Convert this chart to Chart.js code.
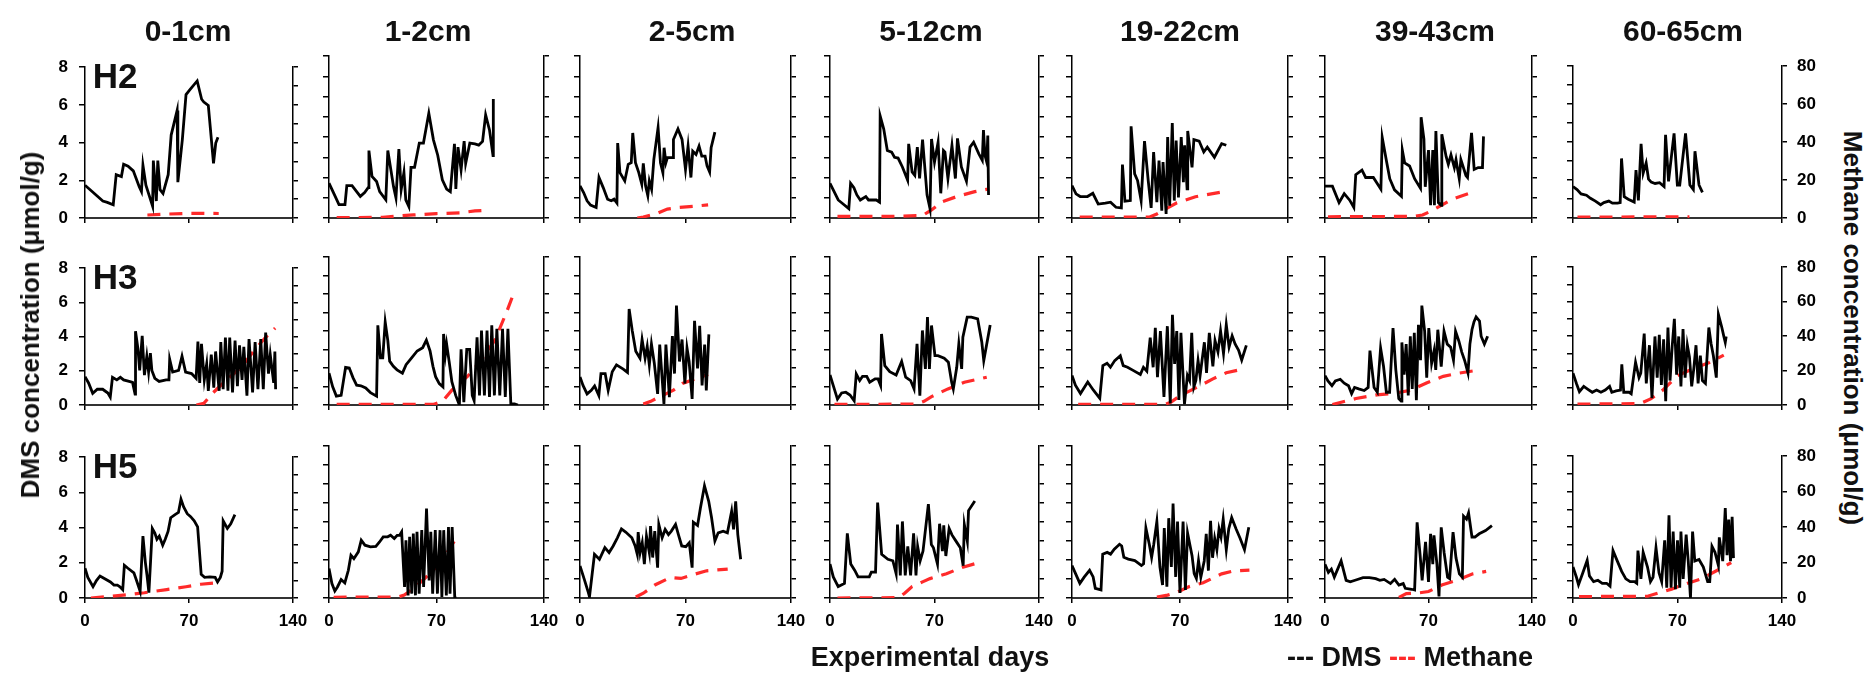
<!DOCTYPE html>
<html>
<head>
<meta charset="utf-8">
<script src="https://cdn.jsdelivr.net/npm/chart.js@4.4.1/dist/chart.umd.min.js"></script>
<style>
  body { margin: 0; width: 1870px; height: 674px; position: relative; overflow: hidden; background: #fff;
         font-family: "Liberation Sans", Arial, sans-serif; font-weight: bold; color: #111; }
  canvas { position: absolute; }
  .lbl { position: absolute; white-space: nowrap; line-height: 1; transform: translate(-50%, -50%); }
</style>
</head>
<body>
<script>
// sediment depth layers (columns) and cores (rows)
const depths = ['0-1cm', '1-2cm', '2-5cm', '5-12cm', '19-22cm', '39-43cm', '60-65cm'];
const cores = ['H2', 'H3', 'H5'];
const dayTicks = [0, 70, 140];
const dmsTicks = [0, 2, 4, 6, 8];
const ch4Ticks = [0, 20, 40, 60, 80];

// DMS (µmol/g) as [day, value] per depth
const dmsH2 = [
  [[0,1.74],[12,0.9],[15,0.83],[19,0.7],[21,2.3],[24.5,2.2],[26,2.85],[29,2.75],[32.5,2.5],[36.5,1.66],[38,1.4],[39,2.8],[41,1.74],[45.5,0.63],[46,3.05],[48,0.9],[49,3.05],[50.5,1.5],[52.5,1.3],[56,2.3],[58,4.4],[62,5.7],[62.5,1.9],[65.5,4.15],[68,6.55],[70.5,6.8],[75.5,7.27],[78.5,6.3],[80,6.15],[83,5.97],[86.5,2.9],[88,3.98],[89.5,4.28]],
  [[0,1.72],[3.5,1.15],[6.5,0.66],[10.4,0.66],[11.6,1.6],[15,1.6],[20.4,1.07],[23.2,1.26],[25.5,1.5],[26,3.33],[28,2.05],[31,1.8],[33,1.3],[37,0.9],[38.3,3.33],[42,1.56],[43.6,1.0],[45.5,3.4],[47,1.4],[48.8,2.25],[50,0.9],[52,0.57],[53.4,2.5],[55.7,2.5],[58.8,3.7],[61.5,3.7],[65,5.17],[68,3.86],[70.8,3.1],[73.8,1.89],[76.6,1.43],[79,1.3],[81.7,3.66],[82.6,1.43],[84,3.5],[86,2.38],[88,3.8],[89,2.7],[91.7,3.7],[95,3.66],[97.5,3.6],[100,3.78],[102,5.09],[104.5,4.35],[106.8,3.08],[107,5.88]],
  [[0,1.59],[2.4,1.26],[4.7,0.85],[7,0.64],[10.7,0.52],[12.6,2.0],[15.4,1.5],[18.3,0.93],[20.7,0.85],[22.6,0.93],[24.5,0.74],[25,3.7],[26.5,2.24],[29.7,1.83],[32,2.65],[34,2.73],[35,4.2],[36.8,2.73],[39,2.24],[41,1.67],[42,2.7],[43.5,1.59],[45,1.1],[46,1.83],[47.5,1.42],[49,2.9],[51.8,4.46],[53.4,2.73],[55,2.24],[55.8,3.47],[57,2.73],[58,2.98],[61.8,2.98],[62,3.88],[65,4.4],[67.7,3.88],[70,2.4],[71.7,3.55],[73.6,2.0],[74.8,3.3],[77,3.14],[79,3.55],[80.8,3.06],[83,3.06],[84.3,2.57],[86,2.27],[87,3.47],[89.5,4.24]],
  [[0,1.71],[2.6,1.33],[5.5,0.89],[9,0.68],[12.6,0.46],[13.8,1.71],[16,1.5],[18,1.14],[20.3,0.89],[24,1.06],[25.8,0.89],[28,0.89],[31,0.89],[33.2,0.78],[33.6,5.04],[36,4.39],[38.4,3.33],[41.3,3.25],[43.2,3.0],[45.6,2.96],[48.5,2.52],[52,1.87],[52.7,3.66],[55,2.28],[56.8,2.11],[58.5,3.5],[60,1.95],[62,3.87],[65,1.14],[67,0.46],[68,3.9],[70,2.76],[72.4,3.74],[74.2,1.22],[76,3.33],[77,3.25],[79,1.95],[81.7,3.58],[84,1.95],[85.4,3.93],[88,2.52],[91.4,1.82],[93.8,3.5],[96.2,3.74],[99.7,3.17],[102,2.85],[102.8,4.34],[103.8,3.1],[105,2.76],[105.7,4.07],[106.2,1.14]],
  [[0,1.6],[2.6,1.19],[5.3,1.06],[10,1.06],[13.5,1.22],[17,0.69],[21.6,0.73],[25,0.78],[28.5,0.53],[32,0.5],[32.7,2.64],[34.3,0.83],[37.8,0.86],[38.3,4.53],[40.6,2.18],[42.5,1.85],[44.8,0.86],[47,3.8],[49.4,1.85],[51.3,0.5],[52.9,3.26],[55,0.78],[56.4,2.84],[58.2,0.36],[59,2.76],[61,0.2],[62,4.0],[63.3,0.61],[65,4.69],[66.3,0.86],[67.5,3.83],[69,1.02],[70.8,4.0],[72.2,1.77],[73,3.59],[74.6,1.44],[75,4.3],[77.8,2.5],[79,3.87],[82.4,3.8],[85.4,3.26],[87.7,3.5],[92.3,3.0],[97,3.67],[100,3.59]],
  [[0,1.57],[5,1.57],[9.5,0.76],[13,1.2],[16.7,0.88],[19.5,0.52],[20.8,2.14],[25,2.36],[27.5,2.0],[32.7,2.0],[37.8,1.42],[38.7,3.98],[41.6,2.8],[43.8,1.94],[47,1.39],[51.7,1.07],[52.3,3.35],[53.9,2.72],[57.2,2.57],[60.6,1.94],[64.6,1.46],[65,4.98],[66.9,3.9],[67.8,1.54],[70,3.35],[71.4,0.63],[72.9,3.35],[74,0.63],[75,4.3],[76.7,0.76],[78.5,0.63],[79,4.14],[81.9,3.04],[83.4,2.65],[85.2,3.12],[87.5,2.49],[88.6,2.88],[90.8,1.94],[91.9,2.88],[95.3,2.1],[96.4,2.0],[99.1,4.2],[100.9,2.4],[103.6,2.49],[106.5,2.49],[107.2,4.03]],
  [[0,1.66],[2.7,1.5],[5.4,1.27],[9,1.2],[11.7,1.04],[15,0.89],[18.5,0.7],[20.7,0.81],[24,0.89],[26.4,0.78],[29.8,0.78],[31.6,0.81],[32.5,3.14],[34.3,1.12],[37,0.99],[41,0.84],[42.2,2.52],[43.8,0.93],[45.6,3.91],[47,2.36],[49,2.9],[50.6,2.05],[52.4,1.89],[55,1.82],[58,1.86],[61,1.66],[62,4.38],[64,1.93],[67.7,4.46],[69.9,1.74],[71.5,1.74],[75.4,4.46],[78.3,1.74],[80.6,1.5],[81.7,3.52],[84.4,1.74],[86.7,1.35]]
];
const dmsH3 = [
  [[0,1.65],[2.4,1.29],[5.2,0.68],[8.3,0.92],[11.9,0.92],[15.4,0.7],[17,0.46],[18.5,1.62],[21.4,1.47],[23.8,1.62],[26,1.47],[29.7,1.38],[32,1.32],[33.7,0.64],[34,4.32],[35.6,3.31],[36.8,2.02],[38.5,4.04],[40,1.75],[41.6,2.85],[42.8,1.93],[44,3.03],[45,2.02],[47,1.56],[49.9,1.38],[54.6,1.47],[56.5,1.47],[57,2.67],[59,1.93],[63,2.02],[65.3,2.85],[67.7,1.93],[71.7,1.84],[74.8,1.56],[76,3.71],[77.2,1.29],[78.4,3.58],[80.3,1.47],[81.9,2.39],[83,0.83],[85,2.94],[86.7,1.01],[87.9,3.13],[90.3,0.83],[91.4,3.68],[93,0.92],[94.5,3.95],[96.2,0.83],[97.4,3.95],[99.3,0.74],[101,3.77],[102.6,1.1],[104,3.49],[105.7,1.47],[106.9,3.4],[109,0.55],[110.4,3.86],[112.8,0.74],[114.5,3.68],[116.4,0.92],[118.3,3.86],[120,0.92],[121.6,4.23],[123.5,1.84],[124.7,2.94],[127,1.29],[127.8,3.13],[128.3,0.92]],
  [[0,1.72],[2.4,0.98],[4.8,0.48],[7.9,0.52],[10.8,2.03],[13.2,2.0],[15.6,1.48],[18,1.07],[20.8,1.04],[23.9,0.92],[27,0.67],[31,0.48],[31.8,4.31],[33.5,2.55],[35,2.55],[36.6,4.49],[38.3,3.48],[39.5,2.37],[41.9,2.09],[44.3,1.9],[47.8,1.72],[50.2,2.18],[53.8,2.55],[57.4,2.92],[61,3.1],[63.4,3.51],[65.8,2.92],[67.7,2.09],[69.4,1.53],[71.8,1.16],[74.2,0.98],[74.6,3.84],[75.8,2.74],[76.6,3.29],[78.2,2.37],[80,1.26],[82.5,0.52],[84.9,0],[86,3.01],[87.8,0.15],[89.7,3.01],[91.6,3.01],[93.3,0.52],[94.5,0.24],[96.4,3.66],[98,0.52],[99.3,4.03],[101.2,0.52],[102.9,4.03],[104.5,0.43],[106,4.31],[107.7,0.52],[109.3,4.12],[111.2,0.52],[113,4.12],[114.8,0.43],[116.5,4.12],[118.4,0.06],[120.8,0.06],[123,0]],
  [[0,1.52],[2,1.06],[4.7,0.6],[7.5,0.79],[9.7,1.03],[12.5,0.51],[13.9,1.7],[16.7,1.7],[18.7,0.79],[21.4,1.8],[24.2,2.17],[28.7,1.94],[31.5,1.76],[32.6,5.19],[34.7,4.0],[37,2.9],[39.8,2.53],[41.2,3.54],[43.2,2.53],[44.6,3.17],[46,2.17],[47.4,3.3],[49.3,2.26],[51.5,0.6],[52.9,3.27],[55.7,0.06],[57,3.27],[59.3,0.42],[61.3,3.72],[62.7,1.7],[64,5.37],[66,2.35],[67.7,3.54],[69.6,1.16],[71,3.08],[72.4,2.35],[74.4,0.33],[76,4.55],[78,1.98],[79.4,4.28],[81,1.06],[82.7,3.27],[83.8,0.79],[85.5,3.82]],
  [[0,1.62],[2.2,1.05],[5,0.32],[7.8,0.65],[10.6,0.69],[13.4,0.54],[16.2,0.23],[17.6,1.68],[19.9,1.32],[21.8,1.55],[24.6,1.55],[26.6,1.23],[30.2,1.41],[32.2,1.41],[33.9,1.05],[34.5,3.84],[36.7,2.13],[40,1.8],[44.3,1.62],[48,2.35],[50.7,1.5],[54,1.32],[56.3,0.87],[58.3,3.3],[60.2,0.5],[61.9,4.03],[63.9,1.95],[65.3,4.75],[66.6,1.95],[68,4.3],[70.3,2.67],[72.3,2.67],[76.5,2.53],[79.3,2.31],[81.5,1.23],[82.6,0.87],[84.9,2.04],[86.3,3.3],[88.2,1.95],[89,3.66],[91.9,4.75],[94.7,4.75],[98.9,4.66],[101.7,3.39],[103,2.4],[107.3,4.33]],
  [[0,1.6],[2.2,1.07],[5.5,0.62],[10.2,1.24],[13.9,0.8],[18,0.36],[20,2.13],[22.7,2.26],[24.9,2.04],[27.7,2.4],[31.3,2.66],[33.2,2.13],[36,2.04],[39.6,1.87],[44.3,1.65],[46.3,2.04],[48.5,1.83],[50.7,3.64],[52.6,2.04],[54,4.17],[55.4,1.51],[57.3,4.0],[59.6,0.44],[61.8,4.26],[63.7,0.09],[65.1,4.88],[66.5,2.22],[67.9,4.0],[69.3,0.27],[70.6,3.9],[72.9,0.05],[74.8,1.6],[76.2,1.33],[77.6,3.9],[79,0.98],[80.3,1.33],[81.7,2.4],[83,1.57],[85.8,3.39],[87.2,1.74],[89,3.9],[91.3,2.09],[92.7,3.48],[94.6,2.87],[96.3,4.0],[98.2,2.78],[100,4.35],[101.8,3.13],[103.8,3.74],[105.7,3.3],[108,2.96],[110,2.43],[113,3.22]],
  [[0,1.59],[2,1.3],[4.7,1.04],[7,1.3],[10.3,1.39],[13,1.18],[15.9,1.04],[18,0.61],[20,0.95],[22.8,0.87],[26.5,0.78],[29.2,0.95],[30.4,2.94],[33.2,0.95],[35.4,0.69],[37.6,3.08],[39.6,2.08],[41.5,0.69],[43.7,0.69],[46,4.16],[47.9,1.9],[49.9,0.35],[51.5,0.21],[52,3.38],[53.5,1.64],[54.9,3.29],[56.3,0.52],[57.7,3.72],[59,0.87],[60.4,3.9],[61.8,0.26],[63.2,4.33],[64.6,2.42],[65.5,5.37],[67.4,3.98],[68.8,1.47],[70.2,4.16],[72.1,2.25],[73.8,2.94],[74.9,1.9],[76.3,4.07],[78.6,2.08],[80.5,3.98],[82.7,3.29],[85,3.12],[86.9,2.42],[88.3,3.98],[90.5,3.46],[92.5,2.86],[94.4,2.42],[96.7,1.73],[98,3.29],[99.4,4.07],[100.8,4.5],[102.2,4.76],[104.5,4.54],[105.6,3.72],[107.8,3.29],[110,3.72]],
  [[0,1.85],[2.3,1.25],[4.3,0.77],[7.2,1.08],[10,0.91],[12.9,0.74],[15.8,0.87],[18.7,0.74],[21.6,0.87],[24.5,1.08],[26,0.74],[28.9,0.82],[31.8,0.87],[32.7,2.36],[34,0.74],[37.6,0.74],[39,0.65],[41.9,2.48],[44.2,1.59],[45.4,1.85],[47.7,4.15],[49.1,1.25],[51.2,3.47],[52.9,0.39],[54.9,3.98],[56.4,1.59],[57.8,4.07],[59.2,1.16],[60.7,3.81],[62.1,0.22],[63.6,4.5],[65,1.42],[66.5,3.47],[67.9,5.0],[69.4,1.76],[70.8,3.98],[72.3,1.08],[73.7,4.41],[75.1,1.59],[76.6,3.47],[78,2.79],[79.5,1.08],[80.9,2.1],[82.4,3.47],[83.8,1.25],[85.3,2.87],[86.7,1.42],[88.7,1.25],[91,4.5],[92.5,3.56],[94,2.87],[96,1.59],[97.4,5.26],[99.7,4.5],[101,4.0],[102,3.64],[102.6,3.98]]
];
const dmsH5 = [
  [[0,1.69],[1.9,1.17],[5.4,0.64],[7.7,0.99],[10.1,1.25],[13.6,1.08],[17.1,0.91],[19.5,0.73],[21.8,0.73],[23.5,0.64],[25.4,0.47],[26.5,1.86],[28.9,1.69],[32.9,1.43],[34.7,0.99],[37.1,0.38],[39,3.52],[40.6,2.04],[41.8,1.25],[43,0.3],[44.1,2.04],[45.3,3.95],[47,3.69],[48.4,3.34],[50,3.52],[52.3,3.0],[54,3.34],[55.9,3.78],[57.7,4.56],[60.6,4.74],[62.9,4.86],[64.6,5.61],[66.4,5.17],[68.8,4.79],[71.1,4.62],[73.5,4.39],[75.8,4.04],[78.2,1.34],[80.5,1.17],[84,1.2],[87.6,1.17],[89.2,0.91],[91.1,1.17],[92.3,1.52],[93,4.39],[95.8,3.95],[98.1,4.22],[100.9,4.74]],
  [[0,1.55],[1.9,0.76],[3.8,0.37],[5.5,0.58],[7.9,0.97],[10.3,0.79],[12.6,1.46],[14.3,2.25],[16.2,2.07],[19.1,2.43],[21,3.04],[23.4,2.78],[27,2.69],[30.5,2.72],[32.9,2.95],[35.3,3.22],[38.2,3.22],[40.1,3.3],[42.5,3.13],[44.4,3.3],[46,3.3],[47.3,3.48],[49.2,0.58],[50.1,3.04],[51.5,0.14],[52.5,3.22],[53.9,0.23],[54.9,3.39],[56.3,0.14],[57.3,3.48],[58.7,0.23],[60.4,3.57],[61.6,0.58],[63.5,4.71],[65.2,0.93],[66.3,3.48],[67.5,0.23],[69.2,3.57],[70.6,0.23],[72.3,3.57],[73.5,0.05],[74.7,3.57],[76.4,0.14],[77.8,3.74],[78.8,0.23],[80.2,3.74],[81.9,0],[83,0]],
  [[0,1.69],[2.8,0.99],[5.5,0.3],[6.3,0.07],[9.6,2.3],[12.9,2.04],[16.5,2.65],[19.3,2.39],[22,2.74],[24.8,3.17],[27.5,3.64],[30.3,3.47],[34.4,3.17],[36.6,2.74],[38,2.3],[38.6,3.47],[39.9,2.39],[41.3,2.91],[42.7,1.78],[44.1,3.26],[46,2.39],[46.8,3.78],[48.2,2.13],[49.6,3.52],[51.5,1.6],[52.3,3.87],[54.5,3.17],[56.5,3.61],[58.7,3.34],[60.6,3.52],[63.4,3.87],[65.3,3.34],[67.5,2.74],[70.2,2.7],[72.5,2.91],[74.4,1.6],[75.2,3.99],[78,3.82],[79.9,4.74],[82.6,5.91],[85.4,5.09],[87.3,4.22],[89.5,3.0],[91.7,3.43],[95,3.52],[97.8,3.43],[100.6,4.56],[101.9,3.61],[103.3,5.09],[104.7,3.34],[106.6,2.04]],
  [[0,1.79],[2.2,1.11],[5.5,0.6],[9.7,0.77],[11.6,3.4],[13.9,1.79],[16.6,1.45],[18.8,1.11],[22.2,1.11],[26.3,1.11],[27.7,1.36],[30.5,1.36],[31.9,5.02],[34.6,2.3],[38.8,2.04],[42.1,1.96],[44.3,1.28],[45.2,3.86],[47.1,1.19],[48.5,4.03],[50.4,1.19],[52.1,2.72],[54,1.19],[56,3.4],[57.6,1.19],[58.7,2.72],[60.4,1.96],[62.3,2.47],[65.9,4.94],[67.9,2.81],[69.3,2.64],[72,1.79],[73.4,3.91],[75.3,2.47],[76.2,3.83],[77.6,2.21],[79.8,3.66],[81.7,3.32],[84.5,2.98],[87.3,2.64],[89.2,1.7],[90,3.86],[92,2.98],[92.8,4.6],[97,5.11]],
  [[0,1.71],[2.3,1.28],[5.1,0.77],[8,1.11],[11.4,1.46],[13.7,1.11],[15.1,0.51],[18.8,0.43],[19.9,2.31],[22.8,2.4],[25,2.31],[27.4,2.57],[30.8,2.83],[32.2,2.74],[33.6,2.14],[36.5,2.05],[40.7,1.97],[43.6,1.8],[45,1.71],[46.4,1.8],[47.9,3.68],[50.1,2.83],[51.6,2.14],[53,2.83],[55,4.02],[57,1.63],[58.7,0.68],[59.8,3.68],[61.5,0.6],[62.7,4.2],[64.4,1.63],[65.5,4.97],[67.2,1.11],[68.4,4.02],[70,0.26],[72,4.02],[73.5,0.43],[74.9,3.42],[77.8,2.23],[79.2,1.28],[80.6,1.03],[82,1.97],[83.5,1.1],[85.7,1.95],[87,3.38],[88.4,1.44],[89.8,4.06],[91.1,2.12],[92.5,3.13],[93.9,2.54],[95.3,3.64],[96.6,3.21],[98,4.15],[100,2.54],[101.6,3.64],[103.5,4.23],[106.3,3.64],[109,3.13],[111.8,2.54],[114.6,3.72]],
  [[0,1.78],[2.3,1.35],[4.3,1.52],[6.3,1.1],[10.9,1.95],[14.3,0.93],[17.1,0.85],[21.4,0.96],[25.7,1.07],[30,1.07],[34.3,1.02],[37.1,0.93],[40,0.98],[44.3,0.76],[47.1,0.98],[50,0.68],[52.9,0.76],[54.3,0.51],[58.6,0.46],[60.6,0.42],[62.3,3.98],[64.3,2.28],[65.7,0.93],[68,2.96],[70,0.85],[71.4,3.38],[72.9,1.78],[73.7,3.3],[75.7,1.78],[77.1,0.08],[78.6,3.72],[80.6,2.37],[82.9,1.1],[84.3,1.02],[86.6,3.47],[88.6,2.11],[90.9,1.27],[92.9,1.1],[93.7,4.31],[95.7,4.15],[97.1,4.48],[99.4,3.21],[101.4,3.21],[104.3,3.38],[108.6,3.55],[112.9,3.81]],
  [[0,1.75],[2.3,1.17],[3.7,0.75],[6.6,1.42],[9.5,2.12],[11,1.25],[13.8,0.92],[16.7,1.0],[19.6,0.83],[22.5,0.83],[24.8,0.67],[26.8,2.67],[29.7,2.08],[32.6,1.5],[35.4,1.08],[38.3,0.92],[41.2,0.92],[42.7,0.83],[43.5,2.67],[45.5,1.08],[47,2.58],[49.9,1.75],[51.9,0.92],[53.6,1.17],[55.6,2.83],[57.6,1.42],[59.4,0.92],[61.4,3.25],[62.8,0.58],[64.3,4.67],[65.7,0.58],[67.1,3.75],[68.6,0.5],[70,3.25],[71.5,0.58],[72.3,3.75],[73.8,1.08],[75.8,3.58],[77.2,2.08],[78.7,0],[80.1,3.75],[81.6,2.08],[84.4,2.17],[87.3,1.75],[90.2,0.92],[91.6,0.92],[93.1,2.92],[95.1,2.58],[97.4,1.83],[98,3.42],[100.3,2.08],[102,5.08],[103.2,2.42],[104.3,4.42],[105.5,2.08],[106.6,4.58],[107.5,2.25]]
];

// Methane (µmol/g) as [day, value] per depth
const ch4H2 = [
  [[42,1.6],[56,2.1],[70,2.5],[80,2.5],[90,2.4]],
  [[5,0.2],[35,0.3],[45,1],[55,1.5],[70,2.2],[85,2.5],[95,3.5],[103,3.8]],
  [[38,0],[42,0.5],[50,2],[58,4.4],[66,5.2],[76,5.8],[85,6.5]],
  [[5,0.8],[40,0.8],[62,1.2],[68,4],[75,8],[85,10.6],[97,13],[106,14.3]],
  [[5,0.4],[50,0.4],[55,2],[62,5],[68,7.5],[80,10.5],[100,13.2]],
  [[2,0.6],[60,0.8],[66,1.5],[72,3.5],[78,6],[86,9.3],[99,12.5]],
  [[3,0.5],[78,0.6]]
];
const ch4H3 = [
  [[75,0],[80,1],[86,7],[95,14.5],[105,22],[114,32],[121,39],[128,45]],
  [[5,0.3],[68,0.3],[74,2],[80,8],[90,15.3],[99,24],[108,35],[116,51],[121,62]],
  [[42,0.5],[47,2],[53,4.5],[57,6],[62,8],[68,11.6],[76,14],[85,16.5]],
  [[3,0.3],[58,0.5],[63,2],[68,4.5],[79,8.7],[90,12.3],[105,15]],
  [[4,0.3],[60,0.3],[64,1.5],[70,5],[76,7.5],[83,10.4],[91,14],[100,17.4],[111,19.5]],
  [[5,0.3],[21,3.5],[35,5.5],[46,6.2],[58,8],[69,12],[80,15.5],[91,17.3],[105,19]],
  [[3,0.5],[45,0.8],[52,3.5],[60,8.5],[70,17],[80,21],[91,24.5],[101,29]]
];
const ch4H5 = [
  [[4,0],[18,1],[30,2],[40,3],[55,4.8],[68,6.4],[78,7.8],[91,8.8]],
  [[3,0.4],[45,0.5],[49,1.5],[55,5],[62,10],[69,15.5],[77,24],[82,30.5]],
  [[37,0.5],[42,2.5],[50,7],[60,10.8],[67,10.3],[76,12.5],[84,14.3],[98,15.2]],
  [[5,0],[46,0.2],[50,2.5],[55,6],[62,8.5],[67,10.2],[78,12.8],[89,16.2],[100,18.7]],
  [[55,0.5],[62,1.5],[68,3],[76,6],[85,8],[97,12.7],[105,14.3],[115,14.7]],
  [[50,0.3],[55,2.3],[62,2.5],[70,3.4],[79,6.8],[89,9.3],[100,12.7],[109,14]],
  [[4,0.8],[50,1],[56,2.5],[66,5],[74,7.5],[86,10.8],[97,15.8],[106,20]]
];

const dmsByCore = [dmsH2, dmsH3, dmsH5];
const ch4ByCore = [ch4H2, ch4H3, ch4H5];

// plot-area edges of each panel, in page pixels
const colLeft  = [85, 329, 580, 830, 1072, 1325, 1573];
const colRight = [293, 544, 791, 1039, 1288, 1532, 1782];
const rowTop    = [56, 257, 446];
const rowBottom = [218, 405, 598];
const titleX = [188, 428, 692, 931, 1180, 1435, 1683];

const FONT = '"Liberation Sans", Arial, sans-serif';
const ML = 50, MR = 50, MT = 10, MB = 36;
const RED = '#ff2a2a';

function addLabel(text, x, y, size, extra) {
  const d = document.createElement('div');
  d.className = 'lbl';
  d.style.left = x + 'px';
  d.style.top = y + 'px';
  d.style.fontSize = size + 'px';
  if (extra) d.style.transform = 'translate(-50%, -50%) ' + extra;
  d.innerHTML = text;
  document.body.appendChild(d);
  return d;
}

function fixedTicks(values) {
  return s => { s.ticks = values.map(v => ({ value: v })); };
}

function makePanel(row, col) {
  const left = colLeft[col], right = colRight[col];
  const top = rowTop[row], bottom = rowBottom[row];
  const cv = document.createElement('canvas');
  cv.width = right - left + ML + MR;
  cv.height = bottom - top + MT + MB;
  cv.style.left = (left - ML) + 'px';
  cv.style.top = (top - MT) + 'px';
  document.body.appendChild(cv);

  const tickFont = { family: FONT, size: 17, weight: 'bold' };
  const showX = row === 2, showY = col === 0, showY1 = col === 6;

  new Chart(cv, {
    type: 'line',
    data: {
      datasets: [
        { label: 'DMS', data: dmsByCore[row][col], yAxisID: 'y',
          borderColor: '#000', borderWidth: 2.8, pointRadius: 0, tension: 0 },
        { label: 'Methane', data: ch4ByCore[row][col], yAxisID: 'y1',
          borderColor: RED, borderWidth: 3.2, borderDash: [13, 9], pointRadius: 0, tension: 0 }
      ]
    },
    options: {
      responsive: false,
      animation: false,
      devicePixelRatio: 1,
      layout: { padding: { top: MT, left: 0, right: 0, bottom: 0 }, autoPadding: false },
      plugins: { legend: { display: false }, tooltip: { enabled: false } },
      scales: {
        x: {
          type: 'linear', min: 0, max: 140, position: 'bottom',
          afterFit: s => { s.height = MB; },
          afterBuildTicks: fixedTicks(dayTicks),
          ticks: { display: showX, color: '#000', font: tickFont, padding: 8, maxRotation: 0 },
          grid: { drawOnChartArea: false, color: '#000', tickLength: 5, lineWidth: 1.5 },
          border: { color: '#333', width: 2 }
        },
        y: {
          type: 'linear', min: 0, max: 8, position: 'left',
          afterFit: s => { s.width = ML; },
          afterBuildTicks: fixedTicks([0, 1, 2, 3, 4, 5, 6, 7, 8]),
          ticks: { display: showY, color: '#000', font: tickFont, padding: 11,
                   callback: v => dmsTicks.includes(v) ? String(v) : '' },
          grid: { drawOnChartArea: false, color: '#000', tickLength: 6, lineWidth: 1.5 },
          border: { color: '#000', width: 1.5 }
        },
        y1: {
          type: 'linear', min: 0, max: 80, position: 'right',
          afterFit: s => { s.width = MR; },
          afterBuildTicks: fixedTicks([0, 10, 20, 30, 40, 50, 60, 70, 80]),
          ticks: { display: showY1, color: '#000', font: tickFont, padding: 10,
                   callback: v => ch4Ticks.includes(v) ? String(v) : '' },
          grid: { drawOnChartArea: false, color: '#000', tickLength: 5, lineWidth: 1.5 },
          border: { color: '#000', width: 1.5 }
        }
      }
    }
  });
}

for (let r = 0; r < cores.length; r++) {
  for (let c = 0; c < depths.length; c++) makePanel(r, c);
  addLabel(cores[r], colLeft[0] + 30, rowTop[r] + 19, 35);
}
depths.forEach((d, c) => addLabel(d, titleX[c], 31, 30));

addLabel('DMS concentration (μmol/g)', 30, 325, 26, 'rotate(-90deg)');
addLabel('Methane concentration (μmol/g)', 1853, 328, 26, 'rotate(90deg)');
addLabel('Experimental days', 930, 657, 27);
addLabel('--- DMS <span style="color:' + RED + '">---</span> Methane', 1410, 657, 27);
</script>
</body>
</html>
